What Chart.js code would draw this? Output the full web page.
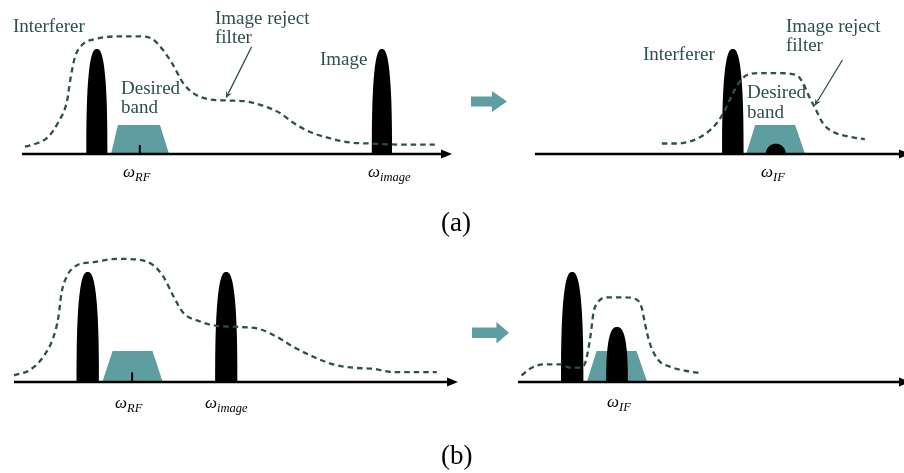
<!DOCTYPE html>
<html>
<head>
<meta charset="utf-8">
<script src="https://cdn.jsdelivr.net/npm/chart.js@4/dist/chart.umd.min.js"></script>
<style>
  html, body { margin: 0; padding: 0; background: #fff; }
  #stage { position: relative; width: 904px; height: 473px; overflow: hidden;
           font-family: "Liberation Serif", "DejaVu Serif", serif; }
  #stage canvas { position: absolute; }
  .lbl { position: absolute; white-space: nowrap; color: #2f4f4f; font-size: 19px; line-height: 1; }
  .math { color: #000; font-size: 17px; font-style: italic; }
  .math .sub { font-size: 12.5px; position: relative; top: 4px; }
  .cap { color: #000; font-size: 27px; }
  .shift { position: absolute; background: #5f9ea0; }
</style>
</head>
<body>
<div id="stage"></div>
<script>
// ---------- spectra (x: frequency units along each axis, y: relative level) ----------

// (a) before down-conversion
const filterRF_a = [[0.7,0.07],[2.6,0.09],[6.0,0.16],[8.4,0.30],[10.5,0.51],[11.2,0.70],[12.3,0.92],
  [14.0,1.04],[16.5,1.09],[22.1,1.12],[27.4,1.12],[30.5,1.09],[32.8,0.99],[35.1,0.85],[37.4,0.68],
  [39.8,0.58],[43.7,0.52],[47.7,0.51],[52.3,0.50],[56.0,0.46],[60.0,0.39],[63.0,0.30],[67.0,0.21],
  [71.6,0.15],[76.3,0.11],[80.9,0.10],[87.9,0.09],[96.0,0.09]];
const peaksRF_a = [[17.4,1.0,2.45],[83.7,1.0,2.35]];          // interferer, image  [centre, level, half-width]
const bandRF_a  = [[20.7,0],[22.3,0.276],[32.1,0.276],[34.2,0]];
const loRF_a    = [27.4, 0.086];

// (a) after down-conversion
const filterIF_a = [[29.5,0.10],[33.0,0.10],[36.8,0.13],[39.9,0.20],[42.2,0.29],[44.2,0.42],[45.7,0.55],
  [47.3,0.67],[49.2,0.75],[52.3,0.77],[57.0,0.77],[60.9,0.75],[62.4,0.67],[63.6,0.56],[65.1,0.44],
  [67.0,0.29],[69.4,0.21],[72.5,0.17],[76.7,0.14]];
const peaksIF_a = [[46.0,1.0,2.5],[56.0,0.098,2.33]];          // interferer, suppressed image
const bandIF_a  = [[49.1,0],[51.2,0.276],[60.5,0.276],[62.8,0]];

// (b) before down-conversion
const filterRF_b = [[0,0.06],[3.6,0.11],[6.6,0.23],[8.9,0.41],[10.0,0.59],[10.7,0.81],[11.9,0.96],
  [14.1,1.06],[17.9,1.09],[23.1,1.12],[28.4,1.11],[31.4,1.06],[33.6,0.96],[35.9,0.78],[38.1,0.63],
  [41.9,0.55],[45.7,0.51],[50.9,0.50],[55.4,0.48],[59.2,0.41],[62.9,0.32],[67.4,0.23],[71.9,0.16],
  [76.4,0.13],[80.9,0.12],[85.4,0.09],[95.2,0.09]];
const peaksRF_b = [[16.6,1.0,2.52],[47.8,1.0,2.5]];
const bandRF_b  = [[19.9,0],[22.2,0.282],[31.2,0.282],[33.5,0]];
const loRF_b    = [26.6, 0.088];

// (b) after down-conversion
const filterIF_b = [[0.8,0.06],[3.1,0.13],[5.7,0.16],[9.5,0.16],[11.7,0.13],[14.0,0.13],[15.1,0.17],
  [15.8,0.29],[16.4,0.44],[17.0,0.63],[18.1,0.73],[20.3,0.77],[23.7,0.77],[26.7,0.75],[27.9,0.67],
  [28.6,0.53],[29.7,0.35],[31.6,0.20],[34.2,0.14],[38.0,0.10],[41.4,0.08]];
const peaksIF_b = [[12.2,1.0,2.52],[22.3,0.50,2.44]];
const bandIF_b  = [[15.5,0],[17.7,0.282],[26.7,0.282],[29.1,0]];

// text
const noteTexts   = ['Interferer', 'Image reject', 'filter', 'Image', 'Desired', 'band'];
const freqSubs    = ['RF', 'image', 'IF'];
const panelTags   = ['(a)', '(b)'];

// ---------- layout ----------
const stage = document.getElementById('stage');
const SLATE = '#2f4f4f', TEAL = '#5f9ea0';

const panels = [
  { left: 0,   top: 0,   width: 460, height: 200, originX: 22,  baseY: 154, pxX: 4.30, pxY: 105, axisEnd: 100,
    filter: filterRF_a, peaks: peaksRF_a, band: bandRF_a, lo: loRF_a, pointer: [[53.4,1.022],[47.4,0.53]] },
  { left: 460, top: 0,   width: 444, height: 200, originX: 535, baseY: 154, pxX: 4.30, pxY: 105, axisEnd: 87.2,
    filter: filterIF_a, peaks: peaksIF_a, band: bandIF_a, lo: null, pointer: [[71.5,0.895],[65.0,0.457]] },
  { left: 0,   top: 235, width: 460, height: 200, originX: 14,  baseY: 382, pxX: 4.44, pxY: 110, axisEnd: 100,
    filter: filterRF_b, peaks: peaksRF_b, band: bandRF_b, lo: loRF_b, pointer: null },
  { left: 460, top: 235, width: 444, height: 200, originX: 518, baseY: 382, pxX: 4.44, pxY: 110, axisEnd: 88.3,
    filter: filterIF_b, peaks: peaksIF_b, band: bandIF_b, lo: null, pointer: null }
];

// lobe outline: a rounded-top superellipse standing on the axis
const LOBE_EXP = 2.6;

// draws the signal lobes, the frequency axis and the pointer arrows
const spectrumPlugin = {
  id: 'spectrum',
  afterDatasetDraw(chart, args) {
    const ds = chart.data.datasets[args.index];
    if (!ds.lobes) return;
    const xs = chart.scales.x, ys = chart.scales.y, ctx = chart.ctx;
    ctx.save();
    ctx.fillStyle = '#000';
    ds.data.forEach(p => {
      const cx = xs.getPixelForValue(p.x);
      const base = ys.getPixelForValue(0);
      const a = Math.abs(xs.getPixelForValue(p.x + p.w) - cx);
      const b = base - ys.getPixelForValue(p.y);
      const n = p.y < 0.2 ? 2 : LOBE_EXP;
      ctx.beginPath();
      const steps = 60;
      for (let i = 0; i <= steps; i++) {
        const t = Math.PI * i / steps;
        const c = Math.cos(t), s = Math.sin(t);
        const px = cx - a * Math.sign(c) * Math.pow(Math.abs(c), 2 / n);
        const py = base - b * Math.pow(Math.abs(s), 2 / n);
        if (i === 0) ctx.moveTo(px, py); else ctx.lineTo(px, py);
      }
      ctx.closePath();
      ctx.fill();
    });
    ctx.restore();
  },
  afterDatasetsDraw(chart, args, opts) {
    const xs = chart.scales.x, ys = chart.scales.y, ctx = chart.ctx;
    ctx.save();
    // frequency axis with arrow head
    const y0 = ys.getPixelForValue(0);
    const xa = xs.getPixelForValue(0), xb = xs.getPixelForValue(opts.axisEnd);
    const head = 11, half = 4.6;
    ctx.strokeStyle = '#000'; ctx.fillStyle = '#000'; ctx.lineWidth = 2.4;
    ctx.beginPath(); ctx.moveTo(xa, y0); ctx.lineTo(xb - head + 1, y0); ctx.stroke();
    ctx.beginPath(); ctx.moveTo(xb, y0); ctx.lineTo(xb - head, y0 - half); ctx.lineTo(xb - head, y0 + half);
    ctx.closePath(); ctx.fill();
    // pointer from the filter label to its curve
    if (opts.pointer) {
      const [p0, p1] = opts.pointer;
      const x0 = xs.getPixelForValue(p0[0]), yA = ys.getPixelForValue(p0[1]);
      const x1 = xs.getPixelForValue(p1[0]), yB = ys.getPixelForValue(p1[1]);
      const ang = Math.atan2(yB - yA, x1 - x0);
      const hl = 7, hw = 3;
      ctx.strokeStyle = SLATE; ctx.fillStyle = SLATE; ctx.lineWidth = 1.3;
      ctx.beginPath(); ctx.moveTo(x0, yA);
      ctx.lineTo(x1 - Math.cos(ang) * hl * 0.8, yB - Math.sin(ang) * hl * 0.8); ctx.stroke();
      ctx.beginPath();
      ctx.moveTo(x1, yB);
      ctx.lineTo(x1 - Math.cos(ang) * hl - Math.sin(ang) * hw, yB - Math.sin(ang) * hl + Math.cos(ang) * hw);
      ctx.lineTo(x1 - Math.cos(ang) * hl * 0.7, yB - Math.sin(ang) * hl * 0.7);
      ctx.lineTo(x1 - Math.cos(ang) * hl + Math.sin(ang) * hw, yB - Math.sin(ang) * hl - Math.cos(ang) * hw);
      ctx.closePath(); ctx.fill();
    }
    ctx.restore();
  }
};

function buildPanel(p) {
  const cv = document.createElement('canvas');
  cv.width = p.width; cv.height = p.height;
  Object.assign(cv.style, { left: p.left + 'px', top: p.top + 'px', width: p.width + 'px', height: p.height + 'px' });
  stage.appendChild(cv);

  const xMin = -(p.originX - p.left) / p.pxX;
  const xMax = xMin + p.width / p.pxX;
  const yMax = (p.baseY - p.top) / p.pxY;
  const yMin = yMax - p.height / p.pxY;

  const datasets = [
    { label: 'filter', data: p.filter.map(([x, y]) => ({ x, y })), borderColor: SLATE, borderWidth: 2.3,
      borderDash: [5.5, 4], pointRadius: 0, cubicInterpolationMode: 'monotone', fill: false },
    { label: 'signals', lobes: true, data: p.peaks.map(([x, y, w]) => ({ x, y, w })), showLine: false, pointRadius: 0 }
  ];
  if (p.lo) {
    datasets.push({ label: 'lo', data: [{ x: p.lo[0], y: 0 }, { x: p.lo[0], y: p.lo[1] }],
      borderColor: '#000', borderWidth: 2, pointRadius: 0, fill: false });
  }
  datasets.push({ label: 'band', data: p.band.map(([x, y]) => ({ x, y })), borderColor: 'rgba(0,0,0,0)',
    borderWidth: 0, backgroundColor: TEAL, fill: 'origin', pointRadius: 0, tension: 0 });

  new Chart(cv, {
    type: 'line',
    data: { datasets },
    options: {
      responsive: false, animation: false, devicePixelRatio: 1, events: [],
      layout: { padding: 0 },
      plugins: { legend: { display: false }, tooltip: { enabled: false },
                 spectrum: { axisEnd: p.axisEnd, pointer: p.pointer } },
      scales: {
        x: { type: 'linear', display: false, min: xMin, max: xMax, bounds: 'data' },
        y: { type: 'linear', display: false, min: yMin, max: yMax, bounds: 'data' }
      }
    },
    plugins: [spectrumPlugin]
  });
}
panels.forEach(buildPanel);

// labels placed by baseline
function addLabel(html, cls, left, base) {
  const el = document.createElement('div');
  el.className = 'lbl ' + cls;
  el.style.left = left + 'px';
  el.style.top = '0px';
  el.innerHTML = '<span class="bl" style="display:inline-block;width:0;height:0;vertical-align:baseline"></span>' + html;
  stage.appendChild(el);
  const off = el.querySelector('.bl').getBoundingClientRect().top - stage.getBoundingClientRect().top;
  el.style.top = (base - off) + 'px';
}
const omega = s => 'ω<span class="sub">' + s + '</span>';

[
  [noteTexts[0], 13, 31.5], [noteTexts[1], 215, 24], [noteTexts[2], 215, 42.5], [noteTexts[3], 320, 65],
  [noteTexts[4], 121, 93.5], [noteTexts[5], 121, 113],
  [noteTexts[0], 643, 60], [noteTexts[1], 786, 31.5], [noteTexts[2], 786, 50.5],
  [noteTexts[4], 747, 97.5], [noteTexts[5], 747, 118]
].forEach(([t, l, b]) => addLabel(t, '', l, b));

[
  [freqSubs[0], 123, 177], [freqSubs[1], 368, 177], [freqSubs[2], 761, 177],
  [freqSubs[0], 115, 407.5], [freqSubs[1], 205, 407.5], [freqSubs[2], 607, 406.5]
].forEach(([s, l, b]) => addLabel(omega(s), 'math', l, b));

addLabel(panelTags[0], 'cap', 441, 231);
addLabel(panelTags[1], 'cap', 441, 464);

// conversion arrows between the spectra
function addShift(left, top, w, h, headAt) {
  const d = document.createElement('div');
  d.className = 'shift';
  Object.assign(d.style, { left: left + 'px', top: top + 'px', width: w + 'px', height: h + 'px',
    clipPath: `polygon(0 26%, ${headAt}% 26%, ${headAt}% 0, 100% 50%, ${headAt}% 100%, ${headAt}% 74%, 0 74%)`,
    borderRadius: '2px' });
  stage.appendChild(d);
}
addShift(471, 91, 36, 21, 58);
addShift(472, 322, 37, 21.5, 66);
</script>
</body>
</html>
